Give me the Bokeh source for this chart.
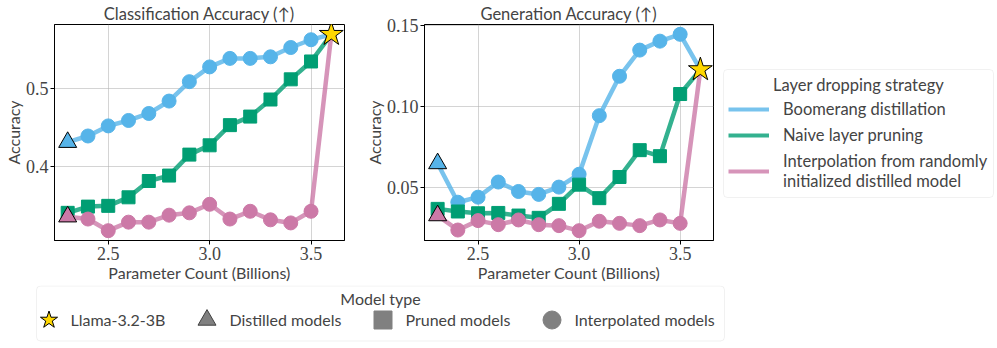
from bokeh.plotting import figure
from bokeh.layouts import row, column
from bokeh.models import Range1d, FixedTicker, Legend, LegendItem, Label, BoxAnnotation
from bokeh.embed import file_html
from bokeh.resources import INLINE

# ---------------- data ----------------
params = [2.3, 2.4, 2.5, 2.6, 2.7, 2.8, 2.9, 3.0, 3.1, 3.2, 3.3, 3.4, 3.5, 3.6]

cls_boomerang = [0.431, 0.439, 0.452, 0.459, 0.468, 0.484, 0.509, 0.528, 0.539, 0.539, 0.541, 0.553, 0.563, 0.570]
cls_pruning = [0.340, 0.348, 0.349, 0.360, 0.381, 0.388, 0.415, 0.427, 0.453, 0.464, 0.486, 0.512, 0.535, 0.570]
cls_interp = [0.335, 0.332, 0.317, 0.328, 0.328, 0.337, 0.340, 0.351, 0.332, 0.342, 0.331, 0.327, 0.342, 0.570]

gen_boomerang = [0.065, 0.0412, 0.0443, 0.0536, 0.0478, 0.0460, 0.0505, 0.0584, 0.0944, 0.1186, 0.1347, 0.1402, 0.1444, 0.1227]
gen_pruning = [0.0371, 0.0355, 0.0344, 0.0346, 0.0330, 0.0316, 0.0402, 0.0520, 0.0437, 0.0567, 0.0732, 0.0695, 0.1077, 0.1227]
gen_interp = [0.0330, 0.0241, 0.0299, 0.0274, 0.0303, 0.0274, 0.0268, 0.0237, 0.0295, 0.0282, 0.0268, 0.0303, 0.0282, 0.1227]

x_ticks = [2.5, 3.0, 3.5]
x_tick_labels = ["2.5", "3.0", "3.5"]
cls_y_ticks = [0.4, 0.5]
cls_y_tick_labels = ["0.4", "0.5"]
gen_y_ticks = [0.05, 0.10, 0.15]
gen_y_tick_labels = ["0.05", "0.10", "0.15"]

strategy_labels = ["Boomerang distillation", "Naive layer pruning",
                   "Interpolation from randomly\ninitialized distilled model"]
model_type_labels = ["Llama-3.2-3B", "Distilled models", "Pruned models", "Interpolated models"]

# ---------------- style ----------------
SANS = "Lato"
SERIF = "Liberation Serif"
BLUE = "#56B4E9"
GREEN = "#009E73"
PINK = "#CC79A7"
GOLD = "#FFD700"
GREY = "#808080"
ROW_H = 285
TOP_B, BOT_B = 24, 45


def make_panel(title, ys_b, ys_p, ys_i, yticks, ylabels, width, mbl, mbr):
    allv = ys_b + ys_p + ys_i
    lo, hi = min(allv), max(allv)
    pad = (hi - lo) * 0.05
    xlo, xhi = min(params), max(params)
    xpad = (xhi - xlo) * 0.05
    p = figure(width=width, height=ROW_H,
               x_range=Range1d(xlo - xpad, xhi + xpad),
               y_range=Range1d(lo - pad, hi + pad),
               toolbar_location=None, output_backend="svg",
               min_border_left=mbl, min_border_right=mbr,
               min_border_top=TOP_B, min_border_bottom=BOT_B, title=title)
    p.title.text_font = SANS
    p.title.text_font_size = "16.5px"
    p.title.text_font_style = "normal"
    p.title.align = "center"
    p.title.standoff = 2

    xt = FixedTicker(ticks=x_ticks)
    yt = FixedTicker(ticks=yticks)
    p.xaxis.ticker = xt
    p.xgrid.ticker = xt
    p.yaxis.ticker = yt
    p.ygrid.ticker = yt
    p.xaxis.major_label_overrides = dict(zip(x_ticks, x_tick_labels))
    p.yaxis.major_label_overrides = dict(zip(yticks, ylabels))
    p.xaxis.axis_label = "Parameter Count (Billions)"
    p.yaxis.axis_label = "Accuracy"
    for ax in (p.xaxis, p.yaxis):
        ax.axis_label_text_font = SANS
        ax.axis_label_text_font_size = "16px"
        ax.axis_label_text_font_style = "normal"
        ax.axis_label_standoff = 0
        ax.major_label_text_font = SERIF
        ax.major_label_text_font_size = "18px"
        ax.major_label_standoff = 2
        ax.major_tick_out = 4
        ax.major_tick_in = 0
        ax.minor_tick_out = 0
        ax.minor_tick_in = 0
        ax.axis_line_color = "black"
        ax.major_tick_line_color = "black"
    p.grid.grid_line_color = "#b0b0b0"
    p.grid.grid_line_alpha = 0.55
    p.outline_line_color = "black"
    p.outline_line_alpha = 1
    p.outline_line_width = 1

    for ys, col, mk in ((ys_b, BLUE, "circle"), (ys_p, GREEN, "square"), (ys_i, PINK, "circle")):
        p.line(params, ys, line_color=col, line_width=4.5, line_alpha=0.8)
        if mk == "square":
            p.scatter(params[:-1], ys[:-1], marker="square", size=13,
                      fill_color=col, line_color=col)
        else:
            p.scatter(params[1:-1], ys[1:-1], marker="circle", size=14,
                      fill_color=col, line_color=col)
    for ys, col in ((ys_b, BLUE), (ys_i, PINK)):
        p.scatter(params[:1], ys[:1], marker="triangle", size=18,
                  fill_color=col, line_color="black", line_width=1)
    p.scatter(params[-1:], ys_b[-1:], marker="star", size=25,
              fill_color=GOLD, line_color="black", line_width=1)
    return p


p1 = make_panel("Classification Accuracy (\u2191)", cls_boomerang, cls_pruning, cls_interp,
                cls_y_ticks, cls_y_tick_labels, width=361, mbl=49, mbr=17)
p2 = make_panel("Generation Accuracy (\u2191)", gen_boomerang, gen_pruning, gen_interp,
                gen_y_ticks, gen_y_tick_labels, width=357, mbl=57, mbr=5)

# ---------------- right legend (layer dropping strategy) ----------------
LX0 = 361 + 357
LW = 997 - LX0
lf = figure(width=LW, height=ROW_H,
            x_range=Range1d(LX0, LX0 + LW), y_range=Range1d(ROW_H - BOT_B, TOP_B),
            toolbar_location=None, output_backend="svg",
            min_border_left=0, min_border_right=0,
            min_border_top=TOP_B, min_border_bottom=BOT_B,
            x_axis_location=None, y_axis_location=None, outline_line_color=None)
lf.grid.visible = False
lf.add_layout(BoxAnnotation(left=723, right=993, top=69, bottom=197,
                            fill_color="white", fill_alpha=0, line_color="#d0d0d0",
                            line_width=1, border_radius=4))
lf.add_layout(Label(x=858, y=84, text="Layer dropping strategy", text_align="center",
                    text_baseline="middle", text_font=SANS, text_font_size="16.5px"))
rends = [lf.line(params, ys, line_color=c, line_width=4, line_alpha=0.8, visible=False)
         for ys, c in ((cls_boomerang, BLUE), (cls_pruning, GREEN), (cls_interp, PINK))]
leg1 = Legend(items=[LegendItem(label=l, renderers=[r]) for l, r in zip(strategy_labels, rends)],
              location=(10, 49), orientation="vertical",
              glyph_width=41, glyph_height=20, label_height=20, label_standoff=14,
              spacing=6, padding=0, margin=0, border_line_alpha=0, background_fill_alpha=0,
              inactive_fill_alpha=0,
              label_text_font=SANS, label_text_font_size="16.5px")
lf.add_layout(leg1)

# ---------------- bottom legend (model type) ----------------
BW, BY0, BH = 997, ROW_H, 348 - ROW_H
bf = figure(width=BW, height=BH, x_range=Range1d(0, BW), y_range=Range1d(BY0 + BH, BY0),
            toolbar_location=None, output_backend="svg", min_border=0,
            x_axis_location=None, y_axis_location=None, outline_line_color=None)
bf.grid.visible = False
bf.add_layout(BoxAnnotation(left=36, right=724, top=285.5, bottom=340.5,
                            fill_color="white", fill_alpha=0, line_color="#d0d0d0",
                            line_width=1, border_radius=4))
bf.add_layout(Label(x=380, y=298, text="Model type", text_align="center",
                    text_baseline="middle", text_font=SANS, text_font_size="16px"))
mk_specs = [("star", GOLD, "black"), ("triangle", GREY, "#404040"),
            ("square", GREY, GREY), ("circle", GREY, GREY)]
brends = [bf.scatter(params[-1:], cls_boomerang[-1:], marker=m, size=18, fill_color=f,
                     line_color=lc, line_width=1, visible=False)
          for m, f, lc in mk_specs]
leg2 = Legend(items=[LegendItem(label=l, renderers=[r]) for l, r in zip(model_type_labels, brends)],
              location=(25.5, 6.5), orientation="horizontal",
              glyph_width=45, glyph_height=45, label_standoff=0,
              spacing=19, padding=0, margin=0, border_line_alpha=0, background_fill_alpha=0,
              inactive_fill_alpha=0,
              label_text_font=SANS, label_text_font_size="16px")
bf.add_layout(leg2)

layout = column(row(p1, p2, lf), bf)
open("out.html", "w").write(file_html(layout, INLINE))
